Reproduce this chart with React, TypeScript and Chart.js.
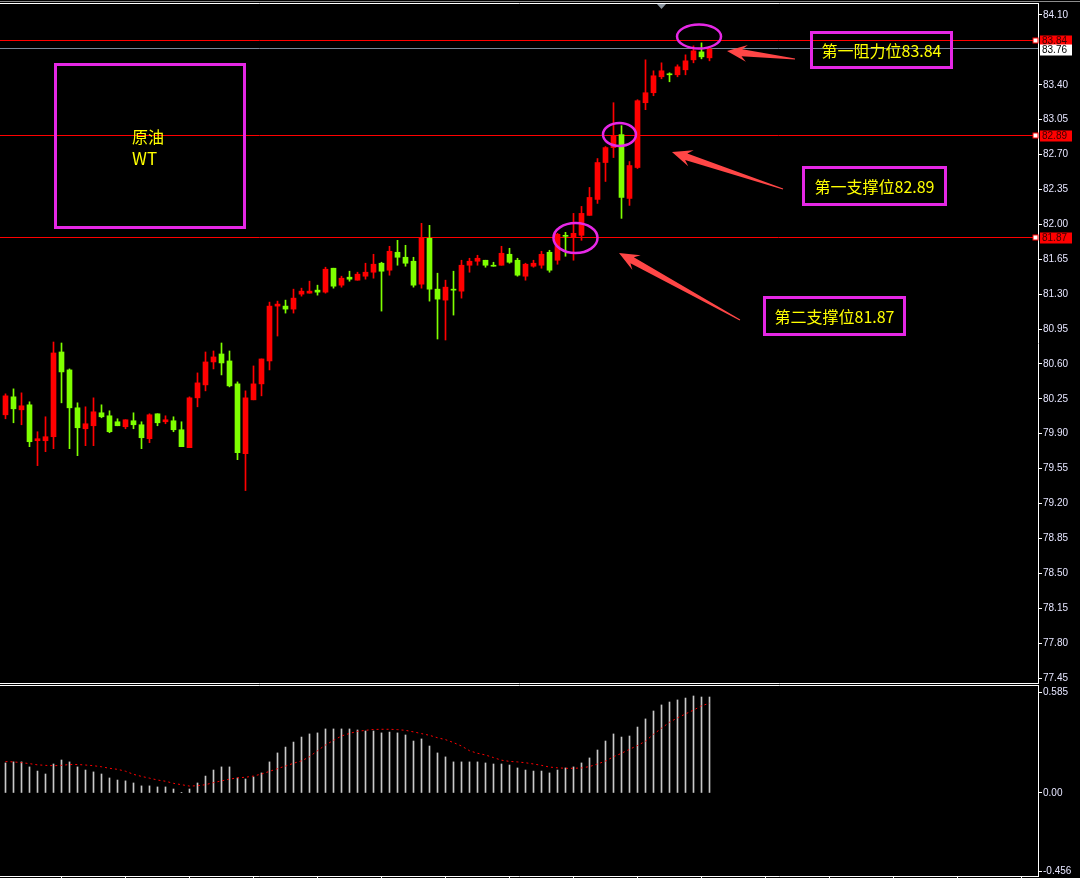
import React, { useEffect, useRef } from "react";
import { Chart, registerables } from "chart.js";

Chart.register(...registerables);

// ---- candle data (WTI crude) ----
const OPEN = [80.09, 80.27, 80.14, 80.19, 79.83, 79.83, 79.87, 80.72, 80.54, 80.16,
  79.95, 79.98, 80.11, 80.08, 80.02, 79.97, 80.03, 79.99, 79.85, 80.10,
  80.02, 80.03, 79.94, 79.76, 80.26, 80.39, 80.62, 80.70, 80.63, 80.40,
  79.70, 80.24, 80.40, 80.63, 81.18, 81.18, 81.15, 81.30, 81.31, 81.34,
  81.32, 81.56, 81.39, 81.47, 81.44, 81.48, 81.52, 81.61, 81.54, 81.72,
  81.67, 81.63, 81.40, 81.86, 81.35, 81.24, 81.35, 81.33, 81.59, 81.63,
  81.64, 81.59, 81.59, 81.70, 81.64, 81.48, 81.58, 81.59, 81.72, 81.64,
  81.89, 81.87, 81.89, 82.09, 82.25, 82.62, 82.77, 82.90, 82.26, 82.57,
  83.22, 83.32, 83.48, 83.51, 83.50, 83.55, 83.65, 83.73, 83.67];
const HIGH = [80.30, 80.35, 80.31, 80.22, 79.92, 80.07, 80.82, 80.81, 80.55, 80.21,
  80.17, 80.26, 80.19, 80.13, 80.05, 80.04, 80.11, 80.02, 80.10, 80.10,
  80.08, 80.07, 80.02, 80.27, 80.51, 80.72, 80.73, 80.81, 80.73, 80.42,
  80.33, 80.58, 80.65, 81.22, 81.23, 81.24, 81.35, 81.36, 81.43, 81.39,
  81.57, 81.56, 81.48, 81.53, 81.52, 81.61, 81.70, 81.62, 81.78, 81.84,
  81.79, 81.67, 82.01, 81.99, 81.51, 81.44, 81.53, 81.64, 81.66, 81.69,
  81.64, 81.62, 81.78, 81.76, 81.66, 81.61, 81.64, 81.73, 81.74, 81.91,
  81.92, 82.11, 82.18, 82.37, 82.66, 82.78, 83.22, 82.99, 82.63, 83.25,
  83.65, 83.54, 83.62, 83.52, 83.60, 83.70, 83.79, 83.82, 83.77];
const LOW = [80.05, 80.01, 79.99, 79.77, 79.58, 79.72, 79.75, 80.21, 79.75, 79.68,
  79.78, 79.78, 80.06, 79.91, 79.98, 79.95, 79.95, 79.75, 79.81, 79.98,
  80.00, 79.92, 79.77, 79.76, 80.17, 80.33, 80.55, 80.49, 80.37, 79.64,
  79.33, 80.24, 80.28, 80.54, 80.88, 81.11, 81.11, 81.28, 81.31, 81.29,
  81.31, 81.36, 81.37, 81.43, 81.44, 81.45, 81.46, 81.13, 81.49, 81.59,
  81.58, 81.37, 81.36, 81.23, 80.85, 80.84, 81.09, 81.26, 81.52, 81.59,
  81.57, 81.58, 81.59, 81.61, 81.48, 81.44, 81.57, 81.56, 81.52, 81.60,
  81.68, 81.64, 81.84, 82.09, 82.21, 82.43, 82.67, 82.06, 82.19, 82.56,
  83.15, 83.29, 83.46, 83.43, 83.48, 83.50, 83.62, 83.66, 83.64];
const CLOSE = [80.28, 80.15, 80.18, 79.82, 79.85, 79.87, 80.71, 80.52, 80.16, 79.96,
  80.00, 80.12, 80.07, 79.92, 79.98, 80.04, 79.99, 79.86, 80.09, 80.01,
  80.04, 79.94, 79.77, 80.26, 80.41, 80.62, 80.67, 80.61, 80.38, 79.71,
  80.26, 80.40, 80.65, 81.18, 81.20, 81.15, 81.26, 81.33, 81.33, 81.32,
  81.55, 81.38, 81.46, 81.45, 81.50, 81.52, 81.60, 81.53, 81.73, 81.67,
  81.61, 81.39, 81.87, 81.35, 81.25, 81.37, 81.34, 81.59, 81.63, 81.66,
  81.59, 81.58, 81.71, 81.62, 81.49, 81.60, 81.61, 81.70, 81.54, 81.90,
  81.88, 81.91, 82.11, 82.27, 82.62, 82.77, 82.89, 82.27, 82.59, 83.24,
  83.32, 83.49, 83.54, 83.50, 83.58, 83.64, 83.74, 83.68, 83.76];

const PRICE_TICKS = [84.10, 83.40, 83.05, 82.70, 82.35, 82.00, 81.65, 81.30, 80.95, 80.60,
  80.25, 79.90, 79.55, 79.20, 78.85, 78.50, 78.15, 77.80, 77.45];
const LEVEL_PRICES = [83.84, 82.89, 81.87];
const LEVEL_LABELS = ["83.84", "82.89", "81.87"];
const BID_PRICE = 83.76;
const BID_LABEL = "83.76";

// ---- oscillator panel ----
const HIST = [0.174, 0.180, 0.180, 0.151, 0.127, 0.110, 0.168, 0.191, 0.180, 0.151,
  0.133, 0.122, 0.110, 0.087, 0.075, 0.070, 0.058, 0.041, 0.041, 0.035,
  0.035, 0.023, 0.002, 0.023, 0.058, 0.098, 0.133, 0.151, 0.151, 0.087,
  0.081, 0.093, 0.116, 0.180, 0.232, 0.266, 0.295, 0.324, 0.342, 0.348,
  0.371, 0.371, 0.371, 0.371, 0.365, 0.359, 0.359, 0.348, 0.353, 0.348,
  0.336, 0.301, 0.313, 0.272, 0.232, 0.209, 0.180, 0.180, 0.180, 0.180,
  0.174, 0.168, 0.168, 0.162, 0.145, 0.133, 0.127, 0.127, 0.116, 0.133,
  0.145, 0.151, 0.174, 0.203, 0.249, 0.301, 0.342, 0.324, 0.330, 0.382,
  0.429, 0.475, 0.510, 0.527, 0.539, 0.550, 0.562, 0.556, 0.556];
const SIGNAL = [0.182, 0.180, 0.176, 0.170, 0.163, 0.160, 0.158, 0.160, 0.165, 0.165,
  0.162, 0.158, 0.152, 0.143, 0.137, 0.126, 0.108, 0.096, 0.086, 0.075,
  0.068, 0.056, 0.048, 0.040, 0.042, 0.048, 0.060, 0.070, 0.080, 0.088,
  0.091, 0.098, 0.110, 0.125, 0.141, 0.156, 0.172, 0.186, 0.210, 0.245,
  0.278, 0.305, 0.330, 0.345, 0.357, 0.363, 0.368, 0.369, 0.369, 0.367,
  0.363, 0.354, 0.344, 0.334, 0.320, 0.309, 0.292, 0.272, 0.245, 0.230,
  0.220, 0.205, 0.190, 0.183, 0.180, 0.175, 0.168, 0.160, 0.150, 0.146,
  0.143, 0.143, 0.145, 0.153, 0.168, 0.185, 0.210, 0.230, 0.253, 0.275,
  0.300, 0.340, 0.375, 0.410, 0.435, 0.458, 0.480, 0.505, 0.520];
const OSC_TICKS = [0.585, 0, -0.456];
const OSC_TICK_LABELS = ["0.585", "0.00", "-0.456"];
const TIME_TICKS = [7, 15, 23, 31, 39, 47, 55, 63, 71, 79, 87, 95, 103, 111, 119, 127];

// ---- annotations (data coordinates) ----
const ELLIPSES = [
  { x: 86.69, y: 83.884, rx: 22, ry: 12 },
  { x: 76.75, y: 82.901, rx: 16.5, ry: 11.5 },
  { x: 71.25, y: 81.863, rx: 22, ry: 15 },
];
const ARROWS = [
  { tip: [90.19, 83.739], tail: [98.69, 83.658] },
  { tip: [83.31, 82.726], tail: [97.19, 82.355] },
  { tip: [76.69, 81.713], tail: [91.81, 81.041] },
];
const MARKER_INDEX = 82;

const UP = "#ff0000";
const DOWN = "#7fff00";
const LEVEL_COLOR = "#ff0000";
const BID_COLOR = "#778899";
const MAGENTA = "#e628e6";
const ARROW_COLOR = "#ff4646";
const AXIS_TEXT = "#e6e6ff";
const FONT = "'Liberation Sans', Arial, sans-serif";
const CJK = "'Noto Sans CJK SC', 'Noto Sans', sans-serif";

const X_MIN = -0.6875;
const X_MAX = X_MIN + 1038 / 8;
const IDX = OPEN.map((_, i) => i);

function drawArrow(ctx: CanvasRenderingContext2D, tx: number, ty: number, sx: number, sy: number) {
  const dx = tx - sx, dy = ty - sy;
  const len = Math.hypot(dx, dy);
  const ux = dx / len, uy = dy / len;
  const nx = -uy, ny = ux;
  const L = 20, hw = 8.5, neckBack = 15, neckW = 3.5, tailW = 0.5;
  const p = (a: number, w: number) => [tx - ux * a + nx * w, ty - uy * a + ny * w];
  const pts = [
    [tx, ty],
    p(L, hw),
    p(neckBack, neckW),
    [sx + nx * tailW, sy + ny * tailW],
    [sx - nx * tailW, sy - ny * tailW],
    p(neckBack, -neckW),
    p(L, -hw),
  ];
  ctx.beginPath();
  ctx.moveTo(pts[0][0], pts[0][1]);
  for (let i = 1; i < pts.length; i++) ctx.lineTo(pts[i][0], pts[i][1]);
  ctx.closePath();
  ctx.fillStyle = ARROW_COLOR;
  ctx.fill();
}

function tag(ctx: CanvasRenderingContext2D, y: number, text: string, bg: string, fg: string, x: number) {
  ctx.fillStyle = bg;
  ctx.fillRect(x, y - 5, 32, 11);
  ctx.fillStyle = fg;
  ctx.font = `10px ${FONT}`;
  ctx.textAlign = "left";
  ctx.textBaseline = "middle";
  ctx.fillText(text, x + 2, y + 0.5);
}

const noPad = (s: any) => {
  s.paddingTop = 0;
  s.paddingBottom = 0;
  s.paddingLeft = 0;
  s.paddingRight = 0;
};

const mainDecor = {
  id: "mainDecor",
  beforeDatasetsDraw(chart: any) {
    const { ctx, chartArea: a, scales } = chart;
    const y = scales.y;
    ctx.save();
    ctx.lineWidth = 1;
    LEVEL_PRICES.forEach((p) => {
      const py = Math.floor(y.getPixelForValue(p)) + 0.5;
      ctx.strokeStyle = LEVEL_COLOR;
      ctx.beginPath();
      ctx.moveTo(a.left, py);
      ctx.lineTo(a.right, py);
      ctx.stroke();
    });
    const by = Math.floor(y.getPixelForValue(BID_PRICE)) + 0.5;
    ctx.strokeStyle = BID_COLOR;
    ctx.beginPath();
    ctx.moveTo(a.left, by);
    ctx.lineTo(a.right, by);
    ctx.stroke();
    ctx.restore();
  },
  afterDraw(chart: any) {
    const { ctx, chartArea: a, scales } = chart;
    const x = scales.x, y = scales.y;
    ctx.save();
    ctx.lineWidth = 1;
    ctx.strokeStyle = "#8c8c8c";
    ctx.beginPath(); ctx.moveTo(0, 1.5); ctx.lineTo(chart.width, 1.5); ctx.stroke();
    ctx.strokeStyle = "#ffffff";
    ctx.beginPath(); ctx.moveTo(0, a.top + 0.5); ctx.lineTo(a.right + 1, a.top + 0.5); ctx.stroke();
    ctx.beginPath(); ctx.moveTo(0, a.bottom + 0.5); ctx.lineTo(a.right + 1, a.bottom + 0.5); ctx.stroke();
    const mx = x.getPixelForValue(MARKER_INDEX);
    ctx.fillStyle = "#8c96a0";
    ctx.beginPath(); ctx.moveTo(mx - 4.5, a.top + 1); ctx.lineTo(mx + 4.5, a.top + 1); ctx.lineTo(mx, a.top + 6); ctx.closePath(); ctx.fill();
    LEVEL_PRICES.forEach((p, i) => {
      const py = Math.floor(y.getPixelForValue(p)) + 0.5;
      tag(ctx, py, LEVEL_LABELS[i], "#ff0000", "#3a0000", a.right + 2);
      ctx.fillStyle = "#ffffff";
      ctx.fillRect(a.right - 5, py - 2.5, 5, 5);
      ctx.strokeStyle = "#ff0000";
      ctx.strokeRect(a.right - 5, py - 2.5, 5, 5);
    });
    const by = Math.floor(y.getPixelForValue(BID_PRICE)) + 0.5;
    tag(ctx, by + 1, BID_LABEL, "#ffffff", "#000000", a.right + 2);
    ctx.strokeStyle = MAGENTA;
    ctx.lineWidth = 2.5;
    ELLIPSES.forEach((e) => {
      ctx.beginPath();
      ctx.ellipse(x.getPixelForValue(e.x), y.getPixelForValue(e.y), e.rx, e.ry, 0, 0, Math.PI * 2);
      ctx.stroke();
    });
    ARROWS.forEach((ar) => {
      drawArrow(ctx, x.getPixelForValue(ar.tip[0]), y.getPixelForValue(ar.tip[1]),
        x.getPixelForValue(ar.tail[0]), y.getPixelForValue(ar.tail[1]));
    });
    ctx.restore();
  },
};

const subDecor = {
  id: "subDecor",
  afterDraw(chart: any) {
    const { ctx, chartArea: a } = chart;
    ctx.save();
    ctx.strokeStyle = "#ffffff";
    ctx.lineWidth = 1;
    ctx.beginPath(); ctx.moveTo(0, a.top + 0.5); ctx.lineTo(a.right + 1, a.top + 0.5); ctx.stroke();
    ctx.restore();
  },
};

export default function App() {
  const mainRef = useRef<HTMLCanvasElement>(null);
  const subRef = useRef<HTMLCanvasElement>(null);

  useEffect(() => {
    Chart.defaults.font.family = FONT;
    const colors = IDX.map((i) => (CLOSE[i] >= OPEN[i] ? UP : DOWN));
    const main = new Chart(mainRef.current as HTMLCanvasElement, {
      type: "bar",
      data: {
        datasets: [
          {
            label: "wick",
            data: IDX.map((i) => ({ x: i, y: [LOW[i], HIGH[i]] })) as any,
            backgroundColor: colors,
            barThickness: 1,
            grouped: false,
            borderWidth: 0,
          },
          {
            label: "body",
            data: IDX.map((i) => ({ x: i, y: [OPEN[i], CLOSE[i]] })) as any,
            backgroundColor: colors,
            barThickness: 5,
            grouped: false,
            borderWidth: 0,
            minBarLength: 1,
          },
        ],
      },
      options: {
        animation: false,
        responsive: false,
        events: [],
        layout: { padding: { top: 3, bottom: 1, left: 0, right: 0 } },
        plugins: { legend: { display: false }, tooltip: { enabled: false } },
        scales: {
          x: { type: "linear", min: X_MIN, max: X_MAX, offset: false, display: false, grid: { offset: false } },
          y: {
            position: "right",
            min: 77.4,
            max: 84.22,
            afterBuildTicks: (s: any) => { s.ticks = PRICE_TICKS.map((v) => ({ value: v })); },
            afterFit: (s: any) => { s.width = 42; noPad(s); },
            ticks: {
              color: AXIS_TEXT,
              font: { family: FONT, size: 10 },
              padding: 1,
              autoSkip: false,
              callback: (v: any) => Number(v).toFixed(2),
            },
            grid: { drawOnChartArea: false, drawTicks: true, tickLength: 4, color: "#ffffff" },
            border: { display: true, color: "#ffffff" },
          },
        },
      } as any,
      plugins: [mainDecor],
    });

    const sub = new Chart(subRef.current as HTMLCanvasElement, {
      type: "bar",
      data: {
        datasets: [
          {
            type: "line",
            label: "signal",
            data: IDX.map((i) => ({ x: i, y: SIGNAL[i] })) as any,
            borderColor: "#ff0000",
            borderWidth: 1,
            borderDash: [2, 3],
            pointRadius: 0,
            tension: 0,
            order: 0,
          } as any,
          {
            type: "bar",
            label: "hist",
            data: IDX.map((i) => ({ x: i, y: HIST[i] })) as any,
            backgroundColor: "#c8c8c8",
            barThickness: 1,
            grouped: false,
            borderWidth: 0,
            order: 1,
          },
        ],
      },
      options: {
        animation: false,
        responsive: false,
        events: [],
        layout: { padding: { top: 1, bottom: 0, left: 0, right: 0 } },
        plugins: { legend: { display: false }, tooltip: { enabled: false } },
        scales: {
          x: {
            type: "linear",
            min: X_MIN,
            max: X_MAX,
            offset: false,
            position: "bottom",
            afterBuildTicks: (s: any) => { s.ticks = TIME_TICKS.map((v) => ({ value: v })); },
            afterFit: (s: any) => { s.height = 2; noPad(s); },
            ticks: { display: false, autoSkip: false },
            grid: { offset: false, drawOnChartArea: false, drawTicks: true, tickLength: 2, color: "#ffffff" },
            border: { display: true, color: "#ffffff" },
          },
          y: {
            position: "right",
            min: -0.481,
            max: 0.6256,
            afterBuildTicks: (s: any) => { s.ticks = OSC_TICKS.map((v) => ({ value: v })); },
            afterFit: (s: any) => { s.width = 42; noPad(s); },
            ticks: {
              color: AXIS_TEXT,
              font: { family: FONT, size: 10 },
              padding: 1,
              autoSkip: false,
              callback: (_v: any, i: number) => OSC_TICK_LABELS[i],
            },
            grid: { drawOnChartArea: false, drawTicks: true, tickLength: 4, color: "#ffffff" },
            border: { display: true, color: "#ffffff" },
          },
        },
      } as any,
      plugins: [subDecor],
    });

    return () => {
      main.destroy();
      sub.destroy();
    };
  }, []);

  const boxStyle = (left: number, top: number, w: number, h: number): React.CSSProperties => ({
    position: "absolute",
    left,
    top,
    width: w,
    height: h,
    boxSizing: "border-box",
    border: `3px solid ${MAGENTA}`,
    display: "flex",
    alignItems: "center",
    justifyContent: "center",
    color: "#ffff00",
    fontFamily: CJK,
    fontSize: 16,
    whiteSpace: "nowrap",
  });

  return (
    <div style={{ position: "absolute", left: 0, top: 0, width: 1080, height: 878, background: "#000", overflow: "hidden" }}>
      <canvas ref={mainRef} width={1080} height={684} style={{ position: "absolute", left: 0, top: 0, width: 1080, height: 684 }} />
      <canvas ref={subRef} width={1080} height={194} style={{ position: "absolute", left: 0, top: 684, width: 1080, height: 194 }} />
      <div style={{ position: "absolute", left: 54, top: 63, width: 192, height: 166, boxSizing: "border-box", border: `3px solid ${MAGENTA}` }} />
      <div style={{ position: "absolute", left: 132, top: 125, color: "#ffff00", fontFamily: CJK, fontSize: 16, lineHeight: "22px" }}>
        <div>原油</div>
        <div style={{ fontSize: 17 }}>WT</div>
      </div>
      <div style={boxStyle(810, 31, 143, 38)}>第一阻力位83.84</div>
      <div style={boxStyle(802, 166, 145, 40)}>第一支撑位82.89</div>
      <div style={boxStyle(763, 296, 143, 40)}>第二支撑位81.87</div>
    </div>
  );
}
